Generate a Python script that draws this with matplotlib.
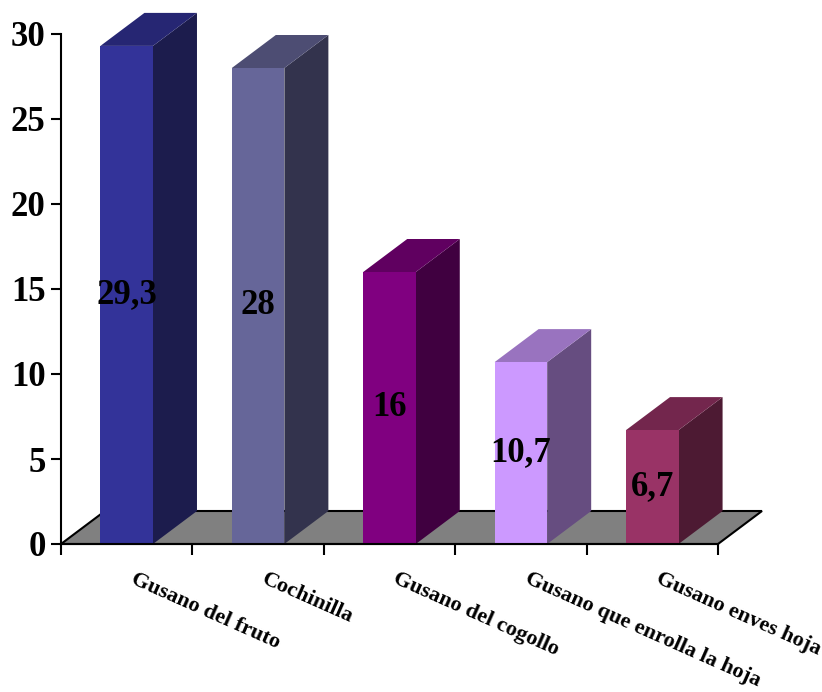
import matplotlib.pyplot as plt
import matplotlib.patches as patches

# data
categories = ['Gusano del fruto', 'Cochinilla', 'Gusano del cogollo',
              'Gusano que enrolla la hoja', 'Gusano enves hoja']
values = [29.3, 28, 16, 10.7, 6.7]
labels = ['29,3', '28', '16', '10,7', '6,7']
front_colors = ['#333399', '#666699', '#800080', '#cc99ff', '#993366']
side_colors = ['#1c1c4d', '#33334d', '#400040', '#664d80', '#4d1a33']
top_colors = ['#262673', '#4d4d73', '#600060', '#9973bf', '#73264d']

plt.rcParams['font.family'] = ['Liberation Serif', 'DejaVu Serif']

fig = plt.figure(figsize=(8.22, 6.92), dpi=100)
ax = fig.add_axes([61 / 822, (692 - 544) / 692, (718 - 61) / 822, (544 - 34) / 692])
ax.set_xlim(0, len(categories))
ax.set_ylim(0, 30)

# depth of the 3D effect, in data units
dx = 44 / 131.4
dy = 33 / 17.0
bw = 0.40

# floor
floor = patches.Polygon([(0, 0), (len(categories), 0),
                         (len(categories) + dx, dy), (dx, dy)],
                        closed=True, facecolor='#808080', edgecolor='black',
                        lw=1.5, clip_on=False, zorder=1)
ax.add_patch(floor)

for i, v in enumerate(values):
    x0 = i + 0.5 - bw / 2
    x1 = i + 0.5 + bw / 2
    front = patches.Polygon([(x0, 0), (x1, 0), (x1, v), (x0, v)],
                            facecolor=front_colors[i], lw=0, clip_on=False, zorder=3)
    side = patches.Polygon([(x1, 0), (x1 + dx, dy), (x1 + dx, v + dy), (x1, v)],
                           facecolor=side_colors[i], lw=0, clip_on=False, zorder=3)
    top = patches.Polygon([(x0, v), (x1, v), (x1 + dx, v + dy), (x0 + dx, v + dy)],
                          facecolor=top_colors[i], lw=0, clip_on=False, zorder=3)
    ax.add_patch(side)
    ax.add_patch(top)
    ax.add_patch(front)
    ax.text(i + 0.5, v / 2, labels[i], ha='center', va='center',
            fontsize=25, fontweight='bold', zorder=5)
    ax.annotate(categories[i], xy=(i + 0.5, 0), xytext=(9, -25),
                textcoords='offset pixels', ha='left', va='top',
                rotation=-24, rotation_mode='anchor',
                fontsize=16, fontweight='bold', annotation_clip=False)

ax.spines['top'].set_visible(False)
ax.spines['right'].set_visible(False)
ax.spines['left'].set_linewidth(1.5)
ax.spines['bottom'].set_linewidth(1.5)
ax.spines['bottom'].set_zorder(4)
ax.set_yticks([0, 5, 10, 15, 20, 25, 30])
ax.set_xticks(range(len(categories) + 1))
ax.set_xticklabels([])
ax.tick_params(axis='y', length=7, width=1.5, pad=4, labelsize=25)
ax.tick_params(axis='x', length=8, width=1.5)
for t in ax.get_yticklabels():
    t.set_fontweight('bold')
ax.set_facecolor('none')

plt.savefig('out.png', dpi=100)
